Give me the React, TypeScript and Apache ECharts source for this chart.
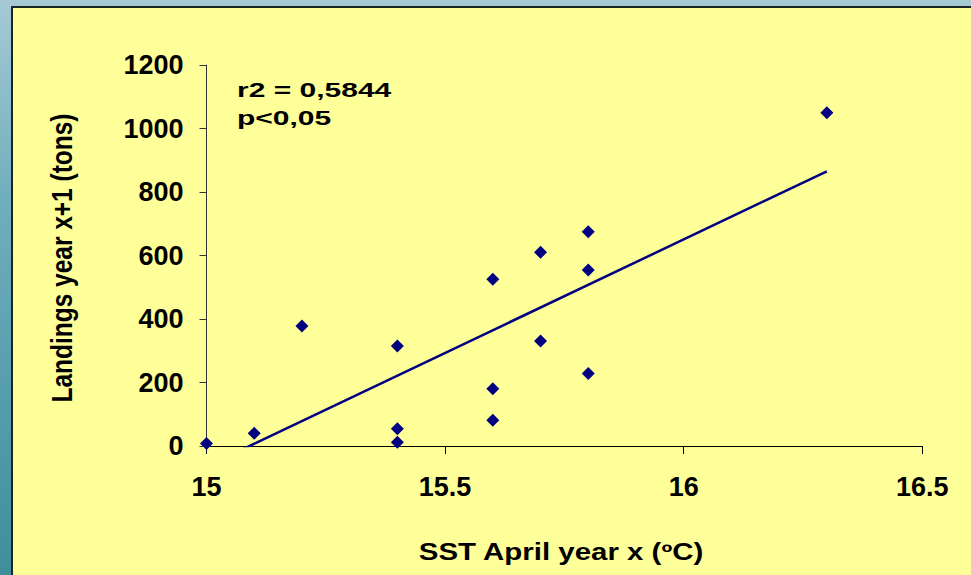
import React, { useEffect, useRef } from "react";
import * as echarts from "echarts";

// Data
const sstApril = [15, 15.1, 15.2, 15.4, 15.4, 15.4, 15.6, 15.6, 15.6, 15.7, 15.7, 15.8, 15.8, 15.8, 16.3];
const landings = [8, 40, 378, 315, 54, 12, 525, 180, 81, 610, 331, 675, 554, 228, 1050];
const xTicks = [15, 15.5, 16, 16.5];
const yTicks = [0, 200, 400, 600, 800, 1000, 1200];
const statsLines = ["r2 = 0,5844", "p<0,05"];
const xTitle = "SST April year x (ºC)";
const yTitle = "Landings year x+1 (tons)";

function linearFit(xs: number[], ys: number[]) {
  const n = xs.length;
  const mx = xs.reduce((a, b) => a + b, 0) / n;
  const my = ys.reduce((a, b) => a + b, 0) / n;
  let sxy = 0;
  let sxx = 0;
  for (let i = 0; i < n; i++) {
    sxy += (xs[i] - mx) * (ys[i] - my);
    sxx += (xs[i] - mx) * (xs[i] - mx);
  }
  const slope = sxy / sxx;
  return { slope, intercept: my - slope * mx };
}

const FONT = "'Liberation Sans', Arial, Helvetica, sans-serif";

export default function App() {
  const ref = useRef<HTMLDivElement>(null);

  useEffect(() => {
    if (!ref.current) return;
    const chart = echarts.init(ref.current, undefined, { renderer: "svg" });

    const pts = sstApril.map((x, i) => [x, landings[i]]);
    const fit = linearFit(sstApril, landings);
    const xMin = Math.min(...sstApril);
    const xMax = Math.max(...sstApril);
    const trend = [
      [xMin, fit.intercept + fit.slope * xMin],
      [xMax, fit.intercept + fit.slope * xMax],
    ];

    chart.setOption({
      animation: false,
      graphic: [
        {
          type: "rect",
          z: -100,
          silent: true,
          shape: { x: 0, y: 0, width: 971, height: 575 },
          style: {
            fill: new echarts.graphic.LinearGradient(0, 0, 0, 1, [
              { offset: 0, color: "#a6c9d5" },
              { offset: 0.35, color: "#70aebd" },
              { offset: 1, color: "#3f8e9c" },
            ]),
          },
        },
        {
          type: "rect",
          z: -90,
          silent: true,
          shape: { x: 12, y: 7, width: 980, height: 600 },
          style: { fill: "#ffff99", stroke: "#1a2626", lineWidth: 2 },
        },
        {
          type: "text",
          z: 10,
          x: 237,
          y: 90,
          scaleX: 1.5,
          style: {
            text: statsLines[0],
            font: `bold 20px ${FONT}`,
            fill: "#000",
            textAlign: "left",
            textVerticalAlign: "middle",
          },
        },
        {
          type: "text",
          z: 10,
          x: 237,
          y: 118,
          scaleX: 1.5,
          style: {
            text: statsLines[1],
            font: `bold 20px ${FONT}`,
            fill: "#000",
            textAlign: "left",
            textVerticalAlign: "middle",
          },
        },
        {
          type: "text",
          z: 10,
          x: 561,
          y: 552,
          scaleX: 1.28,
          style: {
            text: xTitle,
            font: `bold 23px ${FONT}`,
            fill: "#000",
            textAlign: "center",
            textVerticalAlign: "middle",
          },
        },
        {
          type: "text",
          z: 10,
          x: 62,
          y: 258,
          rotation: Math.PI / 2,
          scaleX: 1.02,
          scaleY: 1.22,
          style: {
            text: yTitle,
            font: `bold 24px ${FONT}`,
            fill: "#000",
            textAlign: "center",
            textVerticalAlign: "middle",
          },
        },
      ],
      grid: { left: 206.5, right: 48.7, top: 65, bottom: 129, containLabel: false },
      xAxis: {
        type: "value",
        min: xTicks[0],
        max: xTicks[xTicks.length - 1],
        interval: xTicks[1] - xTicks[0],
        axisLine: { show: true, onZero: false, lineStyle: { color: "#000", width: 1 } },
        axisTick: { show: true, inside: false, length: 8, lineStyle: { color: "#000", width: 1 } },
        splitLine: { show: false },
        axisLabel: {
          margin: 27,
          color: "#000",
          fontWeight: "bold",
          fontSize: 27,
          fontFamily: FONT,
          formatter: (v: number) => String(v),
        },
      },
      yAxis: {
        type: "value",
        min: yTicks[0],
        max: yTicks[yTicks.length - 1],
        interval: yTicks[1] - yTicks[0],
        axisLine: { show: true, onZero: false, lineStyle: { color: "#333", width: 1 } },
        axisTick: { show: true, inside: false, length: 7, lineStyle: { color: "#333", width: 1 } },
        splitLine: { show: false },
        axisLabel: {
          margin: 23,
          color: "#000",
          fontWeight: "bold",
          fontSize: 27,
          fontFamily: FONT,
          formatter: (v: number) => String(v),
        },
      },
      series: [
        {
          name: "Trend",
          type: "line",
          data: trend,
          showSymbol: false,
          symbol: "none",
          clip: true,
          lineStyle: { color: "#000080", width: 2.5 },
          z: 3,
        },
        {
          name: "Landings",
          type: "scatter",
          data: pts,
          symbol: "diamond",
          symbolSize: 13,
          itemStyle: { color: "#000080", opacity: 1 },
          z: 4,
        },
      ],
    });

    return () => chart.dispose();
  }, []);

  return (
    <div
      ref={ref}
      style={{ position: "absolute", left: 0, top: 0, width: 971, height: 575 }}
    />
  );
}
